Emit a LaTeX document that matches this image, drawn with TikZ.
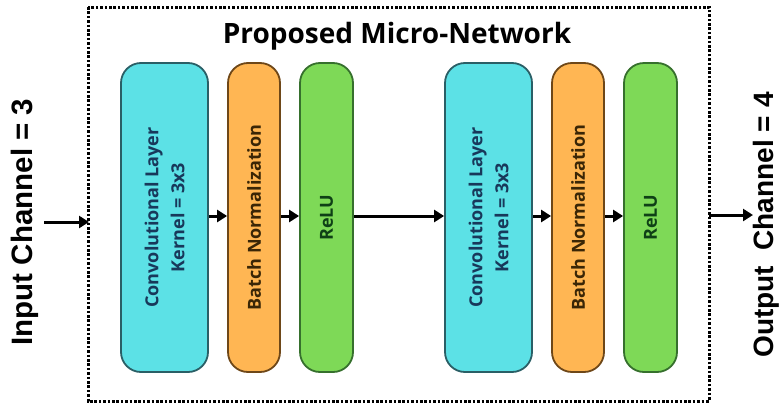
\documentclass[tikz,border=0pt]{standalone}
\usepackage{fontspec}
\setmainfont{Open Sans}
\newfontfamily\sidefont{Liberation Sans}
\usetikzlibrary{arrows.meta}
\definecolor{cyanfill}{HTML}{5CE1E6}
\definecolor{cyanline}{HTML}{2A5F66}
\definecolor{cyantext}{HTML}{18385A}
\definecolor{orangefill}{HTML}{FFB653}
\definecolor{orangeline}{HTML}{6E4718}
\definecolor{orangetext}{HTML}{3A2606}
\definecolor{greenfill}{HTML}{7ED957}
\definecolor{greenline}{HTML}{36702D}
\definecolor{greentext}{HTML}{0F4016}
\tikzset{
  layerbox/.style={draw, line width=1.8pt, rounded corners=20pt, minimum height=309pt, inner sep=0pt},
  convbox/.style={layerbox, fill=cyanfill, draw=cyanline, minimum width=87pt},
  bnbox/.style={layerbox, fill=orangefill, draw=orangeline, minimum width=52pt},
  relubox/.style={layerbox, fill=greenfill, draw=greenline, minimum width=53pt},
  boxtext/.style={rotate=90, font=\bfseries\fontsize{18}{26}\selectfont, align=center, inner sep=0pt},
  flow/.style={line width=3pt, -{Triangle[length=10pt,width=12pt]}},
  sidelabel/.style={rotate=90, font=\sidefont\bfseries\fontsize{29.5}{33}\selectfont, inner sep=0pt},
  frame/.style={line width=3pt, dash pattern=on 2.6pt off 1.8pt}
}
\begin{document}
\begin{tikzpicture}[x=1pt,y=-1pt]
\useasboundingbox (0,0) rectangle (783,407);
\draw[frame] (88,7) rectangle (709,401);
\node[font=\bfseries\fontsize{28}{32}\selectfont] (title) at (397,36) {Proposed Micro-Network};

\node[convbox] (c1) at (164.5,217.5) {};
\node[bnbox] (b1) at (254,217.5) {};
\node[relubox] (r1) at (326.5,217.5) {};
\node[convbox] (c2) at (488.5,217.5) {};
\node[bnbox] (b2) at (578,217.5) {};
\node[relubox] (r2) at (650.5,217.5) {};

\node[boxtext, text=cyantext] (t1) at (c1) {Convolutional Layer\\Kernel = 3x3};
\node[boxtext, text=orangetext] (t2) at (b1) {Batch Normalization};
\node[boxtext, text=greentext] (t3) at (r1) {ReLU};
\node[boxtext, text=cyantext] (t4) at (c2) {Convolutional Layer\\Kernel = 3x3};
\node[boxtext, text=orangetext] (t5) at (b2) {Batch Normalization};
\node[boxtext, text=greentext] (t6) at (r2) {ReLU};

\node[sidelabel] (inlab) at (25,222) {Input Channel = 3};
\node[sidelabel] (outlab) at (766,225) {\fontsize{28}{33}\selectfont Output\ \ Channel = 4};

\coordinate (inS) at (44,222);
\coordinate (inE) at (89,222);
\coordinate (outS) at (709,215);
\coordinate (outE) at (753,215);

\draw[flow] (inS) -- (inE);
\draw[flow] (c1.east |- 0,216) -- (b1.west |- 0,216);
\draw[flow] (b1.east |- 0,216) -- (r1.west |- 0,216);
\draw[flow] (r1.east |- 0,216) -- (c2.west |- 0,216);
\draw[flow] (c2.east |- 0,216) -- (b2.west |- 0,216);
\draw[flow] (b2.east |- 0,216) -- (r2.west |- 0,216);
\draw[flow] (outS) -- (outE);
\end{tikzpicture}
\end{document}
